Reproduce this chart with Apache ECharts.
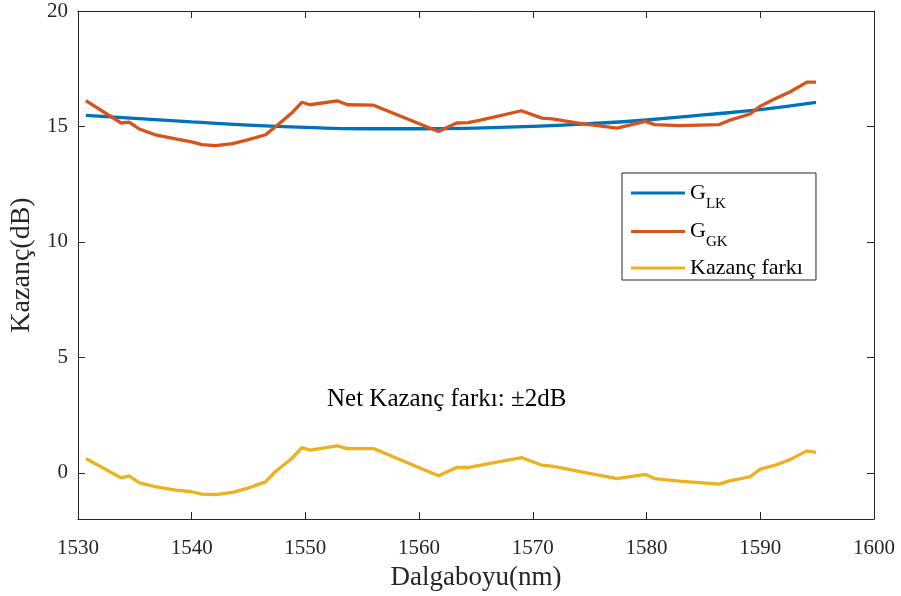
<!DOCTYPE html>
<html>
<head>
<meta charset="utf-8">
<script src="https://cdn.jsdelivr.net/npm/echarts@6/dist/echarts.min.js"></script>
<style>
html,body{margin:0;padding:0;background:#fff;}
#chart{width:901px;height:596px;}
</style>
</head>
<body>
<div id="chart"></div>
<script>
/*数据*/
var waveX = [1530.7, 1533.8, 1534.5, 1535.4, 1536.8, 1538.6, 1540.0, 1540.9, 1542.1, 1543.6, 1545.0, 1546.5, 1547.4, 1548.8, 1549.7, 1550.4, 1552.8, 1553.7, 1556.0, 1561.7, 1563.3, 1564.3, 1565.4, 1569.0, 1570.8, 1571.7, 1574.3, 1577.4, 1579.9, 1580.7, 1582.9, 1586.4, 1587.2, 1589.1, 1590.0, 1591.3, 1592.6, 1594.1, 1594.9];
var gainGK = [16.12, 15.15, 15.19, 14.89, 14.64, 14.46, 14.33, 14.21, 14.17, 14.26, 14.43, 14.64, 15.0, 15.58, 16.05, 15.94, 16.11, 15.94, 15.92, 14.78, 15.15, 15.17, 15.27, 15.68, 15.36, 15.33, 15.12, 14.93, 15.22, 15.08, 15.04, 15.08, 15.25, 15.54, 15.88, 16.2, 16.49, 16.92, 16.92];
var gainDiff = [0.62, -0.22, -0.13, -0.43, -0.6, -0.75, -0.82, -0.92, -0.94, -0.85, -0.65, -0.39, 0.07, 0.62, 1.09, 0.98, 1.17, 1.05, 1.05, -0.13, 0.23, 0.23, 0.33, 0.66, 0.33, 0.29, 0.04, -0.25, -0.07, -0.25, -0.36, -0.49, -0.36, -0.17, 0.16, 0.33, 0.57, 0.95, 0.88];
var lkX = [1530.7, 1535, 1540, 1545, 1550, 1555, 1560, 1565, 1570, 1575, 1580, 1585, 1590, 1594.9];
var gainLK = [15.48, 15.35, 15.2, 15.06, 14.96, 14.9, 14.9, 14.93, 15.0, 15.12, 15.28, 15.5, 15.73, 16.04];
var yTicks = [0, 5, 10, 15, 20];
var seriesNames = ['G_LK', 'G_GK', 'Kazanç farkı'];

function pairs(xs, ys){
    var out = [];
    for(var i=0;i<xs.length;i++){ out.push([xs[i], ys[i]]); }
    return out;
}

var font = 'Liberation Serif';
var axisColor = '#262626';

var myChart = echarts.init(document.getElementById('chart'));
myChart.setOption({
    animation: false,
    grid: {left: 77, right: 27, top: 11, bottom: 76},
    xAxis: [{
        type: 'value', min: 1530, max: 1600, interval: 10,
        name: 'Dalgaboyu(nm)', nameLocation: 'middle', nameGap: 45,
        nameTextStyle: {fontFamily: font, fontSize: 27, color: axisColor},
        axisLine: {onZero: false, lineStyle: {color: axisColor, width: 1}},
        axisTick: {inside: true, length: 7, lineStyle: {color: axisColor}},
        axisLabel: {fontFamily: font, fontSize: 21, color: axisColor, margin: 19,
            formatter: function(v){ return String(v); }},
        splitLine: {show: false}
    }, {
        type: 'value', min: 1530, max: 1600, interval: 10, position: 'top',
        axisLine: {onZero: false, lineStyle: {color: axisColor, width: 1}},
        axisTick: {inside: true, length: 7, lineStyle: {color: axisColor}},
        axisLabel: {show: false},
        splitLine: {show: false}
    }],
    yAxis: [{
        type: 'value', min: -2, max: 20,
        name: 'Kazanç(dB)', nameLocation: 'middle', nameGap: 34,
        nameTextStyle: {fontFamily: font, fontSize: 28, color: axisColor},
        axisLine: {show: true, onZero: false, lineStyle: {color: axisColor, width: 1}},
        axisTick: {show: true, inside: true, length: 7, customValues: yTicks, lineStyle: {color: axisColor}},
        axisLabel: {fontFamily: font, fontSize: 21, color: axisColor, margin: 10, customValues: yTicks},
        splitLine: {show: false}
    }, {
        type: 'value', min: -2, max: 20, position: 'right',
        axisLine: {show: true, onZero: false, lineStyle: {color: axisColor, width: 1}},
        axisTick: {show: true, inside: true, length: 7, customValues: yTicks, lineStyle: {color: axisColor}},
        axisLabel: {show: false},
        splitLine: {show: false}
    }],
    legend: {
        orient: 'vertical', left: 622, top: 173,
        data: seriesNames,
        icon: 'rect',
        itemWidth: 54, itemHeight: 3, itemGap: 7,
        padding: [7, 13, 1, 9],
        borderColor: axisColor, borderWidth: 1, backgroundColor: '#fff',
        formatter: function(name){
            if(name === 'G_LK') return '{g|G}{s|LK}';
            if(name === 'G_GK') return '{g|G}{s|GK}';
            return '{g|' + name + '}';
        },
        textStyle: {
            fontFamily: font, color: '#000',
            rich: {
                g: {fontFamily: font, fontSize: 22, lineHeight: 26, color: '#000'},
                s: {fontFamily: font, fontSize: 15, height: 4, lineHeight: 4, padding: [22, 0, 0, 0], color: '#000'}
            }
        }
    },
    graphic: [{
        type: 'text', left: 327, top: 387,
        style: {text: 'Net Kazanç farkı: ±2dB', font: '25px "Liberation Serif"', fill: '#000'}
    }],
    series: [{
        name: seriesNames[0], type: 'line', smooth: true, symbol: 'none',
        data: pairs(lkX, gainLK),
        lineStyle: {color: '#0072BD', width: 3.3}, itemStyle: {color: '#0072BD'}
    }, {
        name: seriesNames[1], type: 'line', symbol: 'none',
        data: pairs(waveX, gainGK),
        lineStyle: {color: '#D95319', width: 3.3}, itemStyle: {color: '#D95319'}
    }, {
        name: seriesNames[2], type: 'line', symbol: 'none',
        data: pairs(waveX, gainDiff),
        lineStyle: {color: '#EDB120', width: 3.3}, itemStyle: {color: '#EDB120'}
    }]
});
</script>
</body>
</html>
